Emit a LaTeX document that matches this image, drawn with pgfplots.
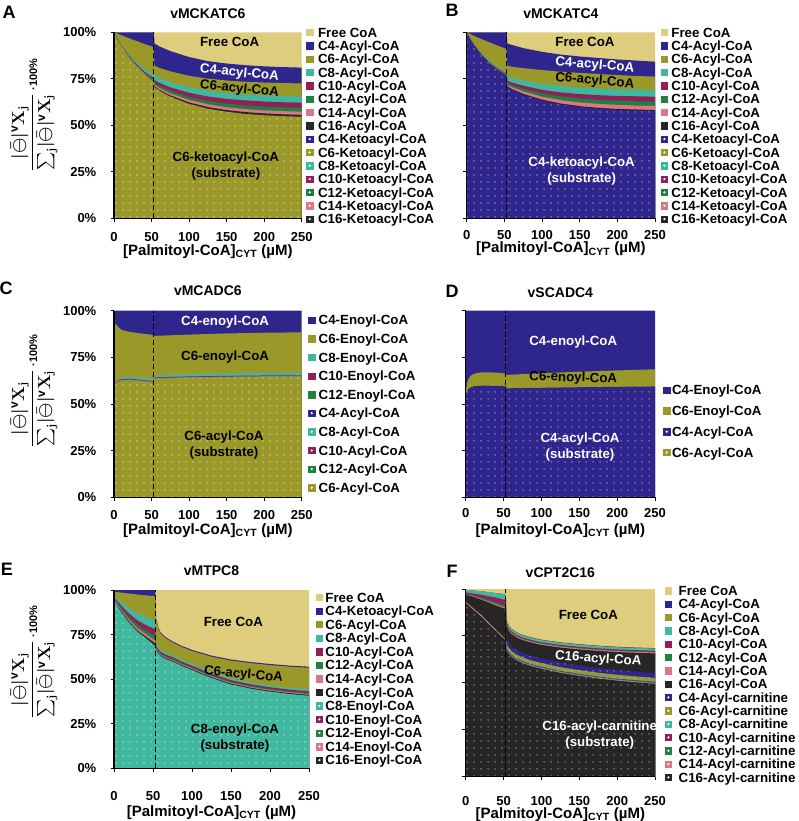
\documentclass[border=0pt]{standalone}
\usepackage{amsmath}
\usepackage{fontspec}
\setmainfont{Liberation Sans}
\usepackage{pgfplots}
\usepackage{pgfplotstable}
\pgfplotsset{compat=1.18}
\usetikzlibrary{patterns.meta}

\definecolor{cFree}{RGB}{221,205,125}
\definecolor{cBlue}{RGB}{46,38,140}
\definecolor{cOlive}{RGB}{155,152,42}
\definecolor{cTeal}{RGB}{64,184,160}
\definecolor{cMaroon}{RGB}{145,32,90}
\definecolor{cGreen}{RGB}{32,128,64}
\definecolor{cPink}{RGB}{219,118,134}
\definecolor{cBlack}{RGB}{38,38,38}

\newcommand{\fT}{\bfseries\fontsize{14}{16}\selectfont}
\newcommand{\fK}{\bfseries\fontsize{13}{15}\selectfont}
\newcommand{\fG}{\bfseries\fontsize{13.3}{15}\selectfont}
\newcommand{\fX}{\bfseries\fontsize{15}{18}\selectfont}
\newcommand{\fI}{\bfseries\fontsize{13.3}{15.7}\selectfont}
\newcommand{\fL}{\bfseries\fontsize{18}{20}\selectfont}
\newsavebox{\ylbox}

\newcommand{\Lsq}[2]{\addlegendimage{legend image code/.code={\fill[#1] (0pt,-3.2pt) rectangle (6.4pt,3.2pt);}}\addlegendentry{#2}}
\newcommand{\Ldot}[2]{\addlegendimage{legend image code/.code={\fill[#1] (0pt,-3.2pt) rectangle (6.4pt,3.2pt);\fill[white] (3.2pt,0pt) circle (0.9pt);}}\addlegendentry{#2}}
\newcommand{\Ar}[3]{\addplot[fill=#2, draw=none, forget plot] table[x=x,y=#3]{#1} \closedcycle;}
\newcommand{\Ad}[3]{\addplot[fill=#2, draw=none, forget plot, postaction={pattern={Dots[distance=6.5pt,radius=0.6pt]}, pattern color=white}] table[x=x,y=#3]{#1} \closedcycle;}
\newcommand{\Dash}{\addplot[forget plot, black, line width=1.2pt, dash pattern=on 5pt off 3pt] coordinates {(53,0) (53,100)};}
\newcommand{\Vs}{\text{\bfseries\fontsize{12}{14}\selectfont v}}

\pgfplotsset{
 panel/.style={
  scale only axis, xmin=0, xmax=250, ymin=0, ymax=100,
  axis x line*=bottom, axis y line*=left, axis on top,
  x axis line style={-}, y axis line style={-},
  axis line style={black, line width=1.1pt},
  tick style={black, line width=1pt}, major tick length=3.5pt, tick align=outside,
  xtick={0,50,...,250}, ytick={0,25,...,100},
  xticklabels={0,50,100,150,200,250},
  yticklabels={0\%,25\%,50\%,75\%,100\%},
  tick label style={font=\fK},
  xticklabel style={anchor=center, inner sep=0pt},
  yticklabel style={anchor=east, inner sep=0pt, xshift=-14pt},
  title style={at={(axis description cs:0.5,1)}, anchor=base, font=\fT},
  xlabel={[Palmitoyl-CoA]\textsubscript{CYT} (µM)},
  xlabel style={at={(axis description cs:0.5,0)}, anchor=base, font=\fX},
  legend cell align=left,
  legend style={draw=none, fill=none, inner sep=0pt, outer sep=0pt, anchor=north west, font=\fG,
     nodes={inner sep=0pt, text height=9.5pt, text depth=0pt, font=\fG}},
 }
}

% ---------------- data (cumulative tops of the stacked areas, %) ----------------
\pgfplotstableread{
x free c4 c6 c8 c10 c12 c14 c16 sub
0 100 100 100 100 100 100 100 100 100
5 100 100 99.2 96.4 96.1 96.0 95.9 95.85 95.8
10 100 100 98.4 93.3 92.8 92.6 92.5 92.4 92.3
20 100 100 96.8 88.3 87.5 87.2 87.0 86.8 86.7
30 100 100 95.3 84.0 82.9 82.5 82.2 82.0 81.8
40 100 100 93.8 80.5 79.1 78.5 78.2 77.9 77.7
53 100 100 92.0 77.2 75.35 74.6 74.1 73.8 73.5
54 100 94 82 76.8 74.3 72.8 71.8 71 70.5
60 100 92.5 80.9 75.5 72.9 71.2 70.1 69.2 68.7
75 100 89.9 79.0 73.2 70.4 68.5 67.2 66.1 65.4
100 100 86.7 76.6 70.4 67.5 65.2 63.6 62.3 61.5
125 100 84.5 75.1 68.6 65.5 63.0 61.3 59.8 58.9
150 100 83.2 74.1 67.4 64.2 61.6 59.7 58.2 57.3
175 100 82.3 73.4 66.6 63.4 60.6 58.7 57.1 56.1
200 100 81.7 73.0 66.1 62.8 60.0 58.0 56.4 55.4
225 100 81.3 72.7 65.7 62.4 59.6 57.6 55.9 54.9
250 100 81 72.5 65.5 62.2 59.3 57.3 55.6 54.6
}\tA

\pgfplotstableread{
x free c4 c6 c8 c10 c12 c14 c16 sub
0 100 100 100 100 100 100 100 100 100
5 100 100 99 96.5 96.3 96.2 96.1 96.05 96
10 100 100 98 93.6 93.3 93.1 93.0 92.9 92.8
20 100 100 96.3 88.6 88.2 88.0 87.85 87.7 87.6
30 100 100 94.6 84.7 84.1 83.9 83.65 83.45 83.3
40 100 100 93 81.6 81.0 80.6 80.4 80.15 80
53 100 100 91 78.5 77.7 77.3 77.0 76.7 76.5
54 100 94 82 76.5 74 72.8 71.8 71 70.5
60 100 93.2 81.5 75.6 73.0 71.6 70.5 69.5 69.0
75 100 91.5 80.7 74.1 71.3 69.6 68.2 66.9 66.4
100 100 89.5 79.7 72.3 69.1 67.1 65.4 63.8 63.2
125 100 88.0 78.8 71.0 67.7 65.5 63.5 61.7 61.1
150 100 87.0 78.2 70.3 66.8 64.4 62.3 60.3 59.8
175 100 86.2 77.6 69.7 66.2 63.7 61.5 59.4 58.9
200 100 85.4 77.0 69.4 65.8 63.2 61.0 58.8 58.3
225 100 84.8 76.5 69.2 65.6 62.9 60.6 58.5 57.8
250 100 84.2 76.2 69.0 65.4 62.7 60.4 58.2 57.6
}\tB

\pgfplotstableread{
x c4e c6e c8e c10e c12e sub
0 100 94 60.5 60.3 60.15 60
3 100 92.5 61.8 61.5 61.3 61
5 100 91.5 62.8 62.5 62.2 61.8
10 100 89.8 64.0 63.3 62.9 62.5
20 100 88.7 64.8 63.6 63.2 62.8
30 100 88.1 64.4 63.2 62.8 62.4
40 100 87.6 63.9 62.8 62.4 62
53 100 87 63.3 62.3 61.9 61.5
54 100 86.5 65.3 64.3 63.9 63.5
75 100 86.8 65.6 64.5 64.1 63.7
100 100 87.2 66.0 64.8 64.4 64
150 100 87.8 66.4 65.1 64.7 64.3
200 100 88.2 66.7 65.3 64.9 64.5
250 100 88.4 66.8 65.4 65.0 64.6
}\tC

\pgfplotstableread{
x c4e c6e sub
0 100 55.5 54.5
1 100 59 56
2 100 61.5 57
4 100 63.8 58.2
7 100 65.3 59
10 100 66 59.4
15 100 66.6 59.7
20 100 66.9 59.8
30 100 67 59.8
40 100 66.8 59.7
53 100 66.3 59.5
54 100 65.6 58.4
100 100 66.5 58.7
150 100 67.3 59
200 100 68 59.2
250 100 68.6 59.4
}\tD

\pgfplotstableread{
x free c4k c6 c8 c10 c12 c14 c16 sub
0 100 100 99 97 96 95.8 95.5 95.2 95
5 100 100 98.8 95 93.5 92.5 91.8 91.3 90.8
10 100 100 98.5 93 91 89.5 88.5 87.8 87
20 100 100 98 89.5 86.5 84.5 83 82 81.3
30 100 100 97.5 87 83 80.5 78.5 77.3 76.6
40 100 100 97 85 80.5 77.5 75.5 74.2 73.3
53 100 100 96.5 82.5 78 74 71.5 70 68.5
54 100 84 83.4 69.45 68.45 67.45 66.95 66.5 66
57 100 79 78.4 67.65 66.65 65.65 65.15 64.7 64.2
60 100 76 75.4 66.25 65.25 64.25 63.75 63.3 62.8
65 100 74 73.4 64.95 63.95 62.95 62.45 62.0 61.5
70 100 72.5 71.9 64.15 63.15 62.15 61.65 61.2 60.7
76 100 71 70.4 63.25 62.25 61.25 60.75 60.3 59.8
85 100 69 68.4 61.15 60.15 59.15 58.65 58.2 57.7
100 100 66.4 65.8 58.55 57.55 56.55 56.05 55.6 55.1
125 100 63.2 62.6 54.05 53.05 52.05 51.55 51.1 50.6
150 100 61 60.4 50.45 49.45 48.45 47.95 47.5 47
175 100 59.6 59.0 48.15 47.15 46.15 45.65 45.2 44.7
200 100 58.5 57.9 46.45 45.45 44.45 43.95 43.5 43
225 100 57.6 57.0 45.15 44.15 43.15 42.65 42.2 41.7
250 100 57 56.4 44.15 43.15 42.15 41.65 41.2 40.7
}\tE

\pgfplotstableread{
x free c4 c6 c8 c10 c12 c14 c16 k4 k6 k8 k10 k12 k14 sub
0 100 99.5 99.5 99.5 98.2 97.5 97.2 97 93.1 93.1 93.1 93.1 93.1 93.1 92.5
10 100 99.2 99.2 99.2 97.6 96.5 96.1 95.8 89.6 89.6 89.6 89.6 89.6 89.6 89
20 100 98.8 98.8 98.8 97 95.4 94.8 94.4 86.1 86.1 86.1 86.1 86.1 86.1 85.5
30 100 98.3 98.3 98.3 96.2 94.2 93.4 92.9 82.1 82.1 82.1 82.1 82.1 82.1 81.5
40 100 97.8 97.8 97.8 95.4 92.8 91.8 91.2 78.1 78.1 78.1 78.1 78.1 78.1 77.5
53 100 97.2 97.2 97.2 94.1 91.1 90 89.3 73.1 73.1 73.1 73.1 73.1 73.1 72.5
54 100 83.6 83.4 83.2 82.2 81.6 81.3 80.8 73.1 70.6 69.1 68.6 68.3 67.9 67.5
57 100 80.5 80.3 80.1 79.1 78.5 78.2 77.7 71.1 68.6 67.1 66.6 66.3 65.9 65.5
60 100 79 78.8 78.6 77.6 77.0 76.7 76.2 69.6 67.1 65.6 65.1 64.8 64.4 64
67 100 77 76.8 76.6 75.6 75.0 74.7 74.2 67.6 65.1 63.6 63.1 62.8 62.4 62
75 100 75.6 75.4 75.2 74.2 73.6 73.3 72.8 66.1 63.6 62.1 61.6 61.3 60.9 60.5
87 100 74.2 74.0 73.8 72.8 72.2 71.9 71.4 64.4 61.9 60.4 59.9 59.6 59.2 58.8
100 100 73 72.8 72.6 71.6 71.0 70.7 70.2 63.1 60.6 59.1 58.6 58.3 57.9 57.5
125 100 71.6 71.4 71.2 70.2 69.6 69.3 68.8 60.9 58.4 56.9 56.4 56.1 55.7 55.3
150 100 70.6 70.4 70.2 69.2 68.6 68.3 67.8 59.3 56.8 55.3 54.8 54.5 54.1 53.7
175 100 69.8 69.6 69.4 68.4 67.8 67.5 67.0 57.9 55.4 53.9 53.4 53.1 52.7 52.3
200 100 69.2 69.0 68.8 67.8 67.2 66.9 66.4 56.8 54.3 52.8 52.3 52.0 51.6 51.2
225 100 68.8 68.6 68.4 67.4 66.8 66.5 66.0 55.9 53.4 51.9 51.4 51.1 50.7 50.3
250 100 68.5 68.3 68.1 67.1 66.5 66.2 65.7 55.1 52.6 51.1 50.6 50.3 49.9 49.5
}\tF

\begin{document}
\sbox{\ylbox}{\boldmath\fontsize{16.5}{19}\selectfont$\displaystyle\frac{\lvert\bar{\ominus}\rvert^{\Vs}\mathbf{X}_{\mathbf{j}}}{\sum\nolimits_{\mathbf{j}}\lvert\bar{\ominus}\rvert^{\Vs}\mathbf{X}_{\mathbf{j}}}\,\text{\bfseries\fontsize{11}{13}\selectfont ·100\%}$}%
\begin{tikzpicture}
\path[use as bounding box] (0pt,0pt) rectangle (798pt,-821pt);

\node[font=\fL] at (9pt,-12pt) {A};
\node[font=\fL] at (452pt,-10pt) {B};
\node[font=\fL] at (6pt,-288pt) {C};
\node[font=\fL] at (452pt,-291pt) {D};
\node[font=\fL] at (7pt,-569pt) {E};
\node[font=\fL] at (452pt,-571pt) {F};

\node[rotate=90, inner sep=0pt] at (34pt,-115pt) {\usebox{\ylbox}};
\node[rotate=90, inner sep=0pt] at (34pt,-391pt) {\usebox{\ylbox}};
\node[rotate=90, inner sep=0pt] at (34pt,-662pt) {\usebox{\ylbox}};

% ---------------- A ----------------
\begin{axis}[panel, at={(114pt,-218.3pt)}, anchor=south west, width=187.7pt, height=186pt,
  title={vMCKATC6}, title style={yshift=7.3pt},
  xlabel style={yshift=-36.7pt}, xticklabel style={yshift=-15pt},
  legend style={at={(axis description cs:1.0244,1.025)}, row sep=3.83pt, column sep=5pt}]
\Ar{\tA}{cFree}{free}
\Ar{\tA}{cBlue}{c4}
\Ar{\tA}{cOlive}{c6}
\Ar{\tA}{cTeal}{c8}
\Ar{\tA}{cMaroon}{c10}
\Ar{\tA}{cGreen}{c12}
\Ar{\tA}{cPink}{c14}
\Ar{\tA}{cBlack}{c16}
\Ad{\tA}{cOlive}{sub}
\Dash
\Lsq{cFree}{Free CoA}
\Lsq{cBlue}{C4-Acyl-CoA}
\Lsq{cOlive}{C6-Acyl-CoA}
\Lsq{cTeal}{C8-Acyl-CoA}
\Lsq{cMaroon}{C10-Acyl-CoA}
\Lsq{cGreen}{C12-Acyl-CoA}
\Lsq{cPink}{C14-Acyl-CoA}
\Lsq{cBlack}{C16-Acyl-CoA}
\Ldot{cBlue}{C4-Ketoacyl-CoA}
\Ldot{cOlive}{C6-Ketoacyl-CoA}
\Ldot{cTeal}{C8-Ketoacyl-CoA}
\Ldot{cMaroon}{C10-Ketoacyl-CoA}
\Ldot{cGreen}{C12-Ketoacyl-CoA}
\Ldot{cPink}{C14-Ketoacyl-CoA}
\Ldot{cBlack}{C16-Ketoacyl-CoA}
\node[font=\fI] at (axis cs:154,94.6) {Free CoA};
\node[font=\fI, white, rotate=-6] at (axis cs:167,78) {C4-acyl-CoA};
\node[font=\fI, rotate=-6] at (axis cs:167,69.4) {C6-acyl-CoA};
\node[font=\fI, align=center] at (axis cs:149,28) {C6-ketoacyl-CoA\\(substrate)};
\end{axis}

% ---------------- B ----------------
\begin{axis}[panel, at={(466.7pt,-218.3pt)}, anchor=south west, width=188.3pt, height=186pt,
  yticklabels={},
  title={vMCKATC4}, title style={yshift=7.3pt},
  xlabel style={yshift=-34.5pt}, xticklabel style={yshift=-13.5pt},
  legend style={at={(axis description cs:1.0319,1.025)}, row sep=3.83pt, column sep=3.6pt}]
\Ar{\tB}{cFree}{free}
\Ar{\tB}{cBlue}{c4}
\Ar{\tB}{cOlive}{c6}
\Ar{\tB}{cTeal}{c8}
\Ar{\tB}{cMaroon}{c10}
\Ar{\tB}{cGreen}{c12}
\Ar{\tB}{cPink}{c14}
\Ar{\tB}{cBlack}{c16}
\Ad{\tB}{cBlue}{sub}
\Dash
\Lsq{cFree}{Free CoA}
\Lsq{cBlue}{C4-Acyl-CoA}
\Lsq{cOlive}{C6-Acyl-CoA}
\Lsq{cTeal}{C8-Acyl-CoA}
\Lsq{cMaroon}{C10-Acyl-CoA}
\Lsq{cGreen}{C12-Acyl-CoA}
\Lsq{cPink}{C14-Acyl-CoA}
\Lsq{cBlack}{C16-Acyl-CoA}
\Ldot{cBlue}{C4-Ketoacyl-CoA}
\Ldot{cOlive}{C6-Ketoacyl-CoA}
\Ldot{cTeal}{C8-Ketoacyl-CoA}
\Ldot{cMaroon}{C10-Ketoacyl-CoA}
\Ldot{cGreen}{C12-Ketoacyl-CoA}
\Ldot{cPink}{C14-Ketoacyl-CoA}
\Ldot{cBlack}{C16-Ketoacyl-CoA}
\node[font=\fI] at (axis cs:157,94.6) {Free CoA};
\node[font=\fI, white, rotate=-5] at (axis cs:170,82.2) {C4-acyl-CoA};
\node[font=\fI, rotate=-5] at (axis cs:170,73.8) {C6-acyl-CoA};
\node[font=\fI, white, align=center] at (axis cs:152.6,25.5) {C4-ketoacyl-CoA\\(substrate)};
\end{axis}

% ---------------- C ----------------
\begin{axis}[panel, at={(114pt,-497.3pt)}, anchor=south west, width=187.7pt, height=186.6pt,
  title={vMCADC6}, title style={yshift=9pt},
  xlabel style={yshift=-36.7pt}, xticklabel style={yshift=-14.7pt},
  legend style={at={(axis description cs:1.0352,0.9753)}, row sep=9.13pt, column sep=3.6pt}]
\Ar{\tC}{cBlue}{c4e}
\Ar{\tC}{cOlive}{c6e}
\Ar{\tC}{cTeal}{c8e}
\Ar{\tC}{cMaroon}{c10e}
\Ar{\tC}{gray}{c12e}
\Ad{\tC}{cOlive}{sub}
\Dash
\Lsq{cBlue}{C4-Enoyl-CoA}
\Lsq{cOlive}{C6-Enoyl-CoA}
\Lsq{cTeal}{C8-Enoyl-CoA}
\Lsq{cMaroon}{C10-Enoyl-CoA}
\Lsq{cGreen}{C12-Enoyl-CoA}
\Ldot{cBlue}{C4-Acyl-CoA}
\Ldot{cTeal}{C8-Acyl-CoA}
\Ldot{cMaroon}{C10-Acyl-CoA}
\Ldot{cGreen}{C12-Acyl-CoA}
\Ldot{cOlive}{C6-Acyl-CoA}
\node[font=\fI, white] at (axis cs:148,94.1) {C4-enoyl-CoA};
\node[font=\fI] at (axis cs:148,75.3) {C6-enoyl-CoA};
\node[font=\fI, align=center] at (axis cs:146.5,28) {C6-acyl-CoA\\(substrate)};
\end{axis}

% ---------------- D ----------------
\begin{axis}[panel, at={(465.7pt,-497.3pt)}, anchor=south west, width=189.3pt, height=186.6pt,
  yticklabels={},
  title={vSCADC4}, title style={yshift=7.4pt},
  xlabel style={yshift=-36.7pt}, xticklabel style={yshift=-12.7pt},
  legend style={at={(axis description cs:1.0438,0.6002)}, row sep=11.3pt, column sep=2pt}]
\Ar{\tD}{cBlue}{c4e}
\Ar{\tD}{cOlive}{c6e}
\Ad{\tD}{cBlue}{sub}
\Dash
\Lsq{cBlue}{C4-Enoyl-CoA}
\Lsq{cOlive}{C6-Enoyl-CoA}
\Ldot{cBlue}{C4-Acyl-CoA}
\Ldot{cOlive}{C6-Acyl-CoA}
\node[font=\fI, white] at (axis cs:142,83.4) {C4-enoyl-CoA};
\node[font=\fI, rotate=-2] at (axis cs:142,63.8) {C6-enoyl-CoA};
\node[font=\fI, white, align=center] at (axis cs:151,27) {C4-acyl-CoA\\(substrate)};
\end{axis}

% ---------------- E ----------------
\begin{axis}[panel, at={(114pt,-768.3pt)}, anchor=south west, width=195pt, height=178.3pt,
  title={vMTPC8}, title style={yshift=8.3pt},
  xlabel style={yshift=-48pt}, xticklabel style={yshift=-24.2pt},
  legend style={at={(axis description cs:1.0359,0.9854)}, row sep=4.06pt, column sep=2.6pt}]
\Ar{\tE}{cFree}{free}
\Ar{\tE}{cBlue}{c4k}
\Ar{\tE}{cOlive}{c6}
\Ar{\tE}{cTeal}{c8}
\Ar{\tE}{cMaroon}{c10}
\Ar{\tE}{cGreen}{c12}
\Ar{\tE}{cPink}{c14}
\Ar{\tE}{cBlack}{c16}
\Ad{\tE}{cTeal}{sub}
\Dash
\Lsq{cFree}{Free CoA}
\Lsq{cBlue}{C4-Ketoacyl-CoA}
\Lsq{cOlive}{C6-Acyl-CoA}
\Lsq{cTeal}{C8-Acyl-CoA}
\Lsq{cMaroon}{C10-Acyl-CoA}
\Lsq{cGreen}{C12-Acyl-CoA}
\Lsq{cPink}{C14-Acyl-CoA}
\Lsq{cBlack}{C16-Acyl-CoA}
\Ldot{cTeal}{C8-Enoyl-CoA}
\Ldot{cMaroon}{C10-Enoyl-CoA}
\Ldot{cGreen}{C12-Enoyl-CoA}
\Ldot{cPink}{C14-Enoyl-CoA}
\Ldot{cBlack}{C16-Enoyl-CoA}
\node[font=\fI] at (axis cs:153,82.2) {Free CoA};
\node[font=\fI, rotate=-5] at (axis cs:166,52.5) {C6-acyl-CoA};
\node[font=\fI, align=center] at (axis cs:155,16.8) {C8-enoyl-CoA\\(substrate)};
\end{axis}

% ---------------- F ----------------
\begin{axis}[panel, at={(465.7pt,-776.7pt)}, anchor=south west, width=189.3pt, height=187.7pt,
  yticklabels={},
  title={vCPT2C16}, title style={yshift=5.7pt},
  xlabel style={yshift=-41.3pt}, xticklabel style={yshift=-20.5pt},
  legend style={at={(axis description cs:1.0528,1.016)}, row sep=3.83pt, column sep=6.9pt}]
\Ar{\tF}{cFree}{free}
\Ar{\tF}{cBlue}{c4}
\Ar{\tF}{cOlive}{c6}
\Ar{\tF}{cTeal}{c8}
\Ar{\tF}{cMaroon}{c10}
\Ar{\tF}{cGreen}{c12}
\Ar{\tF}{cPink}{c14}
\Ar{\tF}{cBlack}{c16}
\Ad{\tF}{cBlue}{k4}
\Ad{\tF}{cOlive}{k6}
\Ad{\tF}{cTeal}{k8}
\Ad{\tF}{cMaroon}{k10}
\Ad{\tF}{cGreen}{k12}
\Ad{\tF}{cPink}{k14}
\Ad{\tF}{cBlack}{sub}
\Dash
\Lsq{cFree}{Free CoA}
\Lsq{cBlue}{C4-Acyl-CoA}
\Lsq{cOlive}{C6-Acyl-CoA}
\Lsq{cTeal}{C8-Acyl-CoA}
\Lsq{cMaroon}{C10-Acyl-CoA}
\Lsq{cGreen}{C12-Acyl-CoA}
\Lsq{cPink}{C14-Acyl-CoA}
\Lsq{cBlack}{C16-Acyl-CoA}
\Ldot{cBlue}{C4-Acyl-carnitine}
\Ldot{cOlive}{C6-Acyl-carnitine}
\Ldot{cTeal}{C8-Acyl-carnitine}
\Ldot{cMaroon}{C10-Acyl-carnitine}
\Ldot{cGreen}{C12-Acyl-carnitine}
\Ldot{cPink}{C14-Acyl-carnitine}
\Ldot{cBlack}{C16-Acyl-carnitine}
\node[font=\fI] at (axis cs:162,86.1) {Free CoA};
\node[font=\fI, white, rotate=-4] at (axis cs:175,62.6) {C16-acyl-CoA};
\node[font=\fI, white, align=center] at (axis cs:177,22.3) {C16-acyl-carnitine\\(substrate)};
\end{axis}
\end{tikzpicture}
\end{document}
